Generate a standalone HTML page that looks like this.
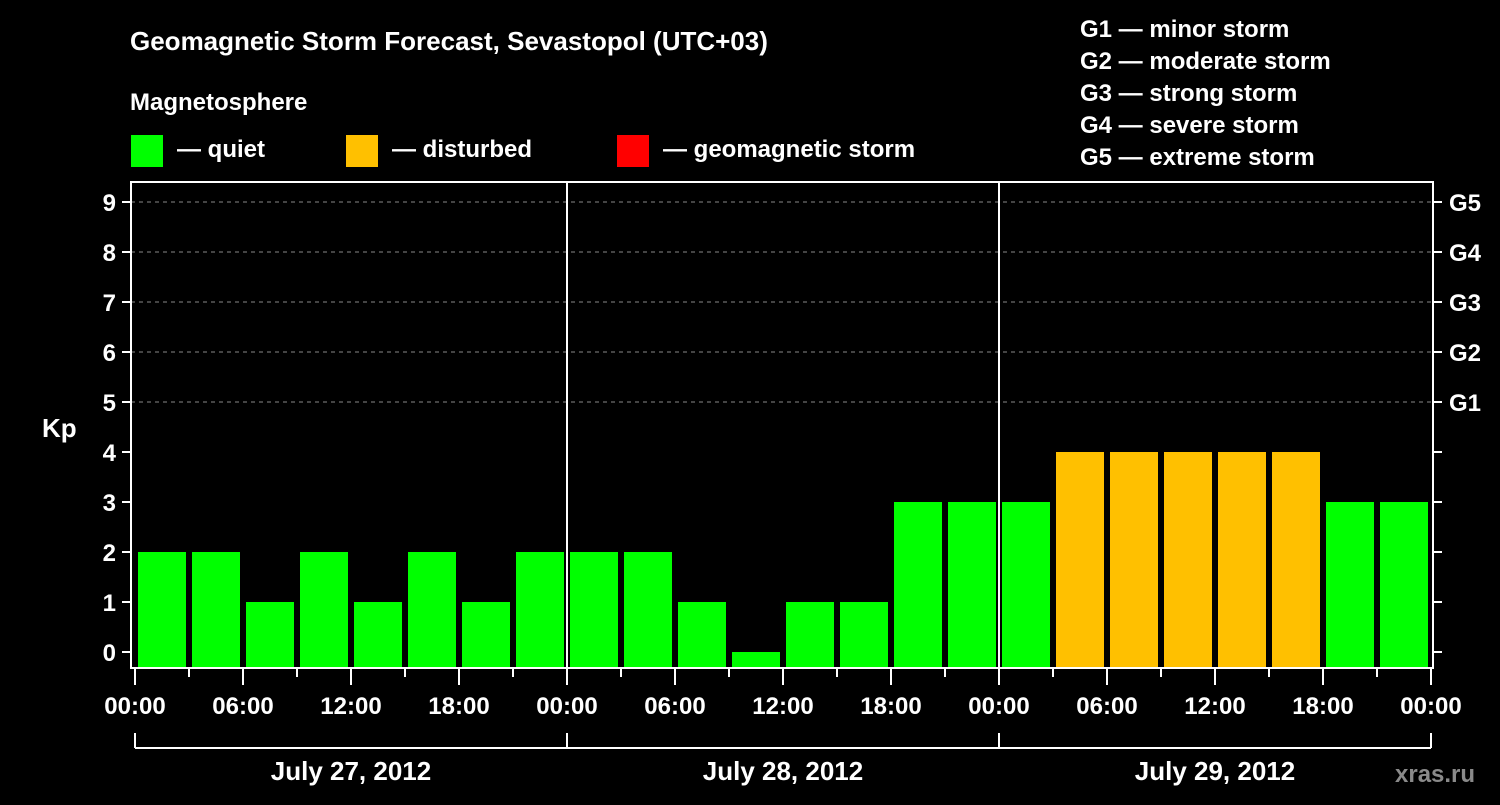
<!DOCTYPE html>
<html><head><meta charset="utf-8"><style>
body{margin:0;background:#000;width:1500px;height:800px;overflow:hidden}
text{font-family:"Liberation Sans",Arial,sans-serif;font-weight:bold;fill:#fff}
</style></head><body>
<svg id="c" width="1500" height="800" xmlns="http://www.w3.org/2000/svg">
<rect width="1500" height="800" fill="#000"/>
<text x="130" y="50" font-size="26">Geomagnetic Storm Forecast, Sevastopol (UTC+03)</text>
<text x="130" y="110" font-size="24">Magnetosphere</text>
<g><rect x="131" y="135" width="32" height="32" fill="#00ff00"/><text x="177" y="157" font-size="24">— quiet</text></g>
<g><rect x="346" y="135" width="32" height="32" fill="#ffc000"/><text x="392" y="157" font-size="24">— disturbed</text></g>
<g><rect x="617" y="135" width="32" height="32" fill="#ff0000"/><text x="663" y="157" font-size="24">— geomagnetic storm</text></g>
<g font-size="24">
<text x="1080" y="37">G1 — minor storm</text>
<text x="1080" y="69">G2 — moderate storm</text>
<text x="1080" y="101">G3 — strong storm</text>
<text x="1080" y="133">G4 — severe storm</text>
<text x="1080" y="165">G5 — extreme storm</text>
</g>
<text x="42" y="437" font-size="26">Kp</text>
<text x="1395" y="782" font-size="24" fill="#888" style="fill:#8a8a8a">xras.ru</text>
<g id="grid"></g><g id="bars"></g><g id="axes"></g>
</svg>
<script>
const kpValues=[2,2,1,2,1,2,1,2, 2,2,1,0,1,1,3,3, 3,4,4,4,4,4,3,3];
const dayLabels=["July 27, 2012","July 28, 2012","July 29, 2012"];
const kpTicks=[0,1,2,3,4,5,6,7,8,9];
const gLabels=["G1","G2","G3","G4","G5"];
const timeLabels=["00:00","06:00","12:00","18:00"];
const NS="http://www.w3.org/2000/svg";
const X0=135,SLOT=54,Y0=652,UNIT=50,BOTTOM=668,TOP=182,LEFT=131,RIGHT=1433;
const xs=i=>X0+i*SLOT, ys=v=>Y0-v*UNIT;
function mk(t,a,p){const e=document.createElementNS(NS,t);for(const k in a)e.setAttribute(k,a[k]);p.appendChild(e);return e;}
const grid=document.getElementById('grid'),bars=document.getElementById('bars'),axes=document.getElementById('axes');
for(let v=5;v<=9;v++){const l=mk('line',{x1:LEFT,x2:RIGHT,y1:ys(v),y2:ys(v),stroke:'#888','stroke-dasharray':'4,4','stroke-width':1},grid);

}
kpValues.forEach((v,i)=>{const c=v>=5?'#ff0000':(v>=4?'#ffc000':'#00ff00');
const top=Math.min(ys(v),BOTTOM);
const r=mk('rect',{x:xs(i)+3,y:top,width:48,height:BOTTOM-top,fill:c},bars);

});
const f=mk('rect',{x:LEFT,y:TOP,width:RIGHT-LEFT,height:BOTTOM-TOP,fill:'none',stroke:'#fff','stroke-width':2},axes);


for(let d=1;d<dayLabels.length;d++){const l=mk('line',{x1:xs(d*8),x2:xs(d*8),y1:TOP,y2:BOTTOM,stroke:'#fff','stroke-width':2},axes);

}
kpTicks.forEach(v=>{mk('line',{x1:122,x2:LEFT,y1:ys(v),y2:ys(v),stroke:'#fff','stroke-width':2},axes);
mk('line',{x1:RIGHT,x2:1442,y1:ys(v),y2:ys(v),stroke:'#fff','stroke-width':2},axes);
const t=mk('text',{x:116,y:ys(v)+9,'font-size':24,'text-anchor':'end'},axes);t.textContent=v;

});
gLabels.forEach((g,i)=>{const t=mk('text',{x:1449,y:ys(5+i)+9,'font-size':24},axes);t.textContent=g;

});
for(let i=0;i<=kpValues.length;i++){const long=i%2==0;
mk('line',{x1:xs(i),x2:xs(i),y1:BOTTOM,y2:BOTTOM+(long?17:9),stroke:'#fff','stroke-width':2},axes);
if(long){const t=mk('text',{x:xs(i),y:714,'font-size':24,'text-anchor':'middle'},axes);t.textContent=timeLabels[(i/2)%4];

}}
mk('line',{x1:xs(0),x2:xs(24),y1:748,y2:748,stroke:'#fff','stroke-width':2},axes);
for(let d=0;d<=dayLabels.length;d++)mk('line',{x1:xs(d*8),x2:xs(d*8),y1:733,y2:748,stroke:'#fff','stroke-width':2},axes);
dayLabels.forEach((s,d)=>{const t=mk('text',{x:xs(d*8+4),y:780,'font-size':26,'text-anchor':'middle'},axes);t.textContent=s;

});
</script>
</body></html>
